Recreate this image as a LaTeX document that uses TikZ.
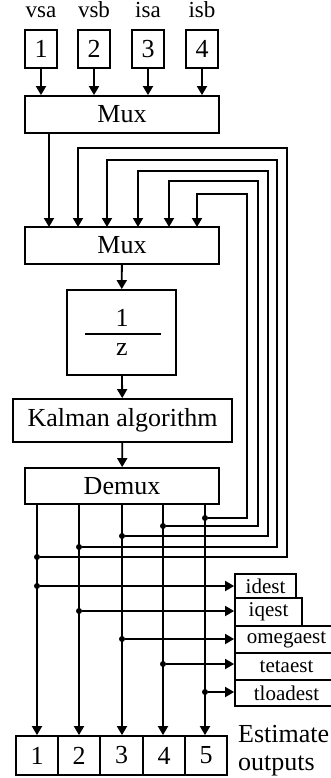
\documentclass[tikz,border=0pt]{standalone}
\usepackage{fontspec}
\setmainfont{Liberation Serif}
\usetikzlibrary{arrows.meta}
\begin{document}
\begin{tikzpicture}[x=1pt,y=-1pt,
  blk/.style={draw, line width=1.8pt, inner sep=0pt, font=\fontsize{26}{30}\selectfont},
  txt/.style={inner sep=0pt, font=\fontsize{26}{30}\selectfont},
  lbl/.style={inner sep=0pt, font=\fontsize{23}{26}\selectfont},
  outbox/.style={draw, line width=1.8pt, inner sep=0pt, font=\fontsize{21}{24}\selectfont},
  wire/.style={line width=1.8pt},
  arr/.style={wire, -{Triangle[length=9pt,width=10pt]}},
  dot/.style={circle, fill, inner sep=0pt, minimum size=6pt}
]
\useasboundingbox (0,0) rectangle (331,778);
\clip (0,0) rectangle (331,778);

% input ports and their signal names
\foreach \i/\x/\name in {1/41/vsa, 2/94/vsb, 3/148/isa, 4/202/isb}{
  \node[blk, minimum width=32pt, minimum height=38pt] (in\i) at (\x,49) {\i};
  \node[lbl, anchor=base] (lb\i) at (\x,18) {\name};
}

% main chain
\node[blk, minimum width=194pt, minimum height=37pt] (mux1) at (122,114.5) {Mux};
\node[blk, minimum width=194pt, minimum height=37pt] (mux2) at (122,245.5) {Mux};
\node[blk, minimum width=109pt, minimum height=85pt] (ud) at (121.5,332.5) {};
\node[txt] (udn) at (122,318) {1};
\node[txt] (udd) at (122,350) {z};
\draw[wire] (85,334) -- (161,334);
\node[blk, minimum width=219pt, minimum height=43pt] (kal) at (122.5,420.5) {Kalman algorithm};
\node[blk, minimum width=194pt, minimum height=36pt] (demux) at (122,486) {Demux};

% inputs into the first multiplexer
\foreach \i in {1,...,4}
  \draw[arr] (in\i) -- (in\i |- mux1.north);

% inputs of the second multiplexer
\foreach \i/\x in {0/49, 1/78, 2/107, 3/138, 4/169, 5/197}
  \coordinate (p\i) at (\x,227);
\draw[arr] (mux1.south -| p0) -- (p0);

\draw[arr] (mux2) -- (ud);
\draw[arr] (ud) -- (kal);
\draw[arr] (kal) -- (demux);

% demultiplexer outputs into the estimate vector
\foreach \i/\x in {1/37, 2/79, 3/122, 4/163, 5/205}
  \coordinate (o\i) at (\x,504);
\node[blk, minimum width=42pt, minimum height=39pt] (c1) at (37,755.5) {1};
\node[blk, minimum width=42pt, minimum height=39pt] (c2) at (79,755.5) {2};
\node[blk, minimum width=43pt, minimum height=39pt] (c3) at (121.5,755.5) {3};
\node[blk, minimum width=42pt, minimum height=39pt] (c4) at (164,755.5) {4};
\node[blk, minimum width=42pt, minimum height=39pt] (c5) at (206,755.5) {5};
\foreach \i in {1,...,5}
  \draw[arr] (o\i) -- (o\i |- c\i.north);
\node[txt, anchor=base west] (est1) at (238,742) {Estimate};
\node[txt, anchor=base west] (est2) at (238,770) {outputs};

% feedback of the estimates into the second multiplexer
\node[dot] (t1) at (37,557) {};
\node[dot] (t2) at (79,547) {};
\node[dot] (t3) at (122,536) {};
\node[dot] (t4) at (163,526) {};
\node[dot] (t5) at (205,518) {};
\draw[arr] (t1) -| (287,148) -| (p1);
\draw[arr] (t2) -| (277,160) -| (p2);
\draw[arr] (t3) -| (268,171) -| (p3);
\draw[arr] (t4) -| (258,181) -| (p4);
\draw[arr] (t5) -| (247,194) -| (p5);

% named estimate outputs
\node[outbox, minimum width=61pt, minimum height=24pt] (idest) at (265.5,586) {idest};
\node[outbox, minimum width=67pt, minimum height=28pt] (iqest) at (268.5,612) {iqest};
\node[outbox, minimum width=103pt, minimum height=27pt] (omegaest) at (286.5,639.5) {omegaest};
\node[outbox, minimum width=103pt, minimum height=27pt] (tetaest) at (286.5,666.5) {tetaest};
\node[outbox, minimum width=103pt, minimum height=26pt] (tloadest) at (286.5,693) {tloadest};

\node[dot] (r1) at (37,586) {};
\node[dot] (r2) at (79,611) {};
\node[dot] (r3) at (122,639) {};
\node[dot] (r4) at (163,664) {};
\node[dot] (r5) at (205,692) {};
\draw[arr] (r1) -- (r1 -| idest.west);
\draw[arr] (r2) -- (r2 -| iqest.west);
\draw[arr] (r3) -- (r3 -| omegaest.west);
\draw[arr] (r4) -- (r4 -| tetaest.west);
\draw[arr] (r5) -- (r5 -| tloadest.west);
\end{tikzpicture}
\end{document}
